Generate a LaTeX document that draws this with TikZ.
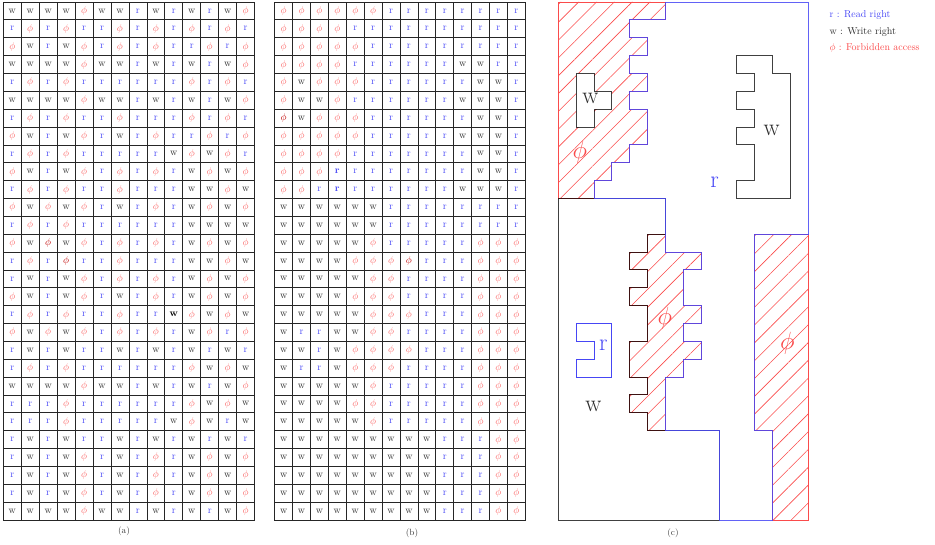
\documentclass[tikz,border=0pt]{standalone}
\usepackage{tikz}
\usetikzlibrary{patterns.meta}
\definecolor{readblue}{RGB}{70,70,245}
\definecolor{forbidred}{RGB}{250,75,75}
\definecolor{writegray}{RGB}{45,45,45}
\tikzset{cell/.style={draw=black!85, line width=0.75pt, inner sep=0pt, minimum height=17.86pt}, cellr/.style={cell, text=readblue}, cellw/.style={cell, text=writegray}, cellp/.style={cell, text=forbidred!85}, cellR/.style={cell, text=readblue, font=\bfseries}, cellW/.style={cell, text=black, font=\bfseries}, cellP/.style={cell, text=red!75!black}, caption/.style={font=\small, text=black!75}, zone/.style={line width=0.85pt}, zonephi/.style={pattern={Lines[angle=45,distance=12.6pt,line width=0.6pt]}, pattern color=forbidred}, biglabel/.style={font=\fontsize{24}{28}\selectfont}, legend/.style={anchor=west, font=\normalsize}}
\def\cellsymr{r}
\def\cellsymw{w}
\def\cellsymp{$\phi$}
\def\cellsymR{r}
\def\cellsymW{w}
\def\cellsymP{$\phi$}
\begin{document}
\begin{tikzpicture}[x=1pt, y=-1pt]
\useasboundingbox (0,0) rectangle (935,545);
\foreach \rowlist [count=\ri] in {{w,w,w,w,p,w,w,r,w,r,w,r,w,p},{r,p,r,p,r,r,p,r,p,r,p,r,p,r},{p,w,r,w,p,r,p,r,p,r,r,p,r,p},{w,w,w,w,p,w,w,r,w,r,w,r,w,p},{r,p,r,p,r,r,r,r,r,r,p,r,p,r},{w,w,w,w,p,w,w,r,w,r,w,r,w,p},{r,p,r,p,r,r,p,r,r,r,p,r,p,r},{p,w,r,w,p,r,w,r,p,r,r,p,r,p},{r,p,r,p,r,r,r,r,r,w,p,w,p,r},{p,w,r,w,p,r,p,r,p,r,w,p,w,p},{r,p,r,p,r,r,p,r,r,r,w,w,p,w},{p,w,p,w,p,r,w,r,p,r,w,p,w,p},{r,p,r,p,r,r,r,r,r,r,w,w,w,w},{p,w,P,w,p,r,p,r,p,r,w,p,w,p},{r,p,r,P,r,r,p,r,r,r,w,w,p,w},{r,w,r,w,p,r,p,r,p,r,w,p,w,p},{p,w,r,w,p,r,w,r,p,r,w,p,w,p},{r,p,r,p,r,r,p,r,r,W,p,w,p,w},{p,w,p,w,p,r,p,r,p,r,w,p,r,p},{r,w,r,w,r,r,w,r,w,r,w,r,w,r},{r,p,r,p,r,r,r,r,r,r,p,w,p,w},{w,w,w,w,p,w,w,r,w,r,w,r,w,p},{r,r,r,p,r,r,r,r,r,r,p,w,p,w},{r,r,r,p,r,r,r,r,r,w,p,w,r,w},{r,w,r,w,r,r,w,r,w,r,w,r,w,r},{r,w,r,w,p,r,w,r,p,r,w,p,w,p},{r,w,r,w,p,r,w,r,p,r,w,p,w,p},{r,w,r,w,p,r,w,r,p,r,w,p,w,p},{w,w,w,w,p,w,w,r,w,r,w,r,w,p}} {
  \foreach \sym [count=\ci] in \rowlist {
    \node[minimum width=17.95pt, cell\sym] (a-\ri-\ci) at ({3.3+(\ci-0.5)*17.95}, {2+(\ri-0.5)*17.86}) {\csname cellsym\sym\endcsname};
  }
}
\foreach \rowlist [count=\ri] in {{p,p,p,p,p,p,r,r,r,r,r,r,r,r},{p,p,p,p,r,r,r,r,r,r,r,r,r,r},{p,p,p,p,p,r,r,r,r,r,r,r,r,r},{p,p,p,p,r,r,r,r,r,r,w,w,r,r},{p,w,p,p,p,r,r,r,r,r,r,w,w,r},{p,w,w,p,r,r,r,r,r,r,w,w,w,r},{P,w,p,p,p,r,r,r,r,r,r,w,w,r},{p,p,p,p,p,r,r,r,r,r,w,w,w,r},{p,p,p,p,r,r,r,r,r,r,r,w,w,r},{p,p,p,R,r,r,r,r,r,r,r,w,w,r},{p,p,r,R,r,r,r,r,r,r,w,w,w,r},{w,w,w,w,w,w,r,r,r,r,r,r,r,r},{w,w,w,w,w,w,r,r,r,r,r,r,r,r},{w,w,w,w,w,p,r,r,r,r,r,p,p,p},{w,w,w,w,p,p,p,P,r,r,r,p,p,p},{w,w,w,w,w,p,p,r,r,r,r,p,p,p},{w,w,w,w,p,p,p,r,r,r,r,p,p,p},{w,w,w,w,w,p,p,p,r,r,r,p,p,p},{w,r,r,w,w,p,p,r,r,r,r,p,p,p},{w,w,r,w,p,p,p,p,r,r,r,p,p,p},{w,r,r,w,p,p,p,r,r,r,r,p,p,p},{w,w,w,w,w,p,r,r,r,r,r,p,p,p},{w,w,w,w,p,p,r,r,r,r,r,p,p,p},{w,w,w,w,w,p,r,r,r,r,r,p,p,p},{w,w,w,w,w,w,w,w,w,r,r,r,p,p},{w,w,w,w,w,w,w,w,w,r,r,r,p,p},{w,w,w,w,w,w,w,w,w,r,r,r,p,p},{w,w,w,w,w,w,w,w,w,r,r,r,p,p},{w,w,w,w,w,w,w,w,w,r,r,r,p,p}} {
  \foreach \sym [count=\ci] in \rowlist {
    \node[minimum width=17.9pt, cell\sym] (b-\ri-\ci) at ({274.7+(\ci-0.5)*17.9}, {2+(\ri-0.5)*17.86}) {\csname cellsym\sym\endcsname};
  }
}
\node[caption] (capa) at (124,531) {(a)};
\node[caption] (capb) at (412,533.5) {(b)};
\node[caption] (capc) at (673,533.5) {(c)};
\begin{scope}[shift={(558.3,2)}, x=17.86pt, y=-17.86pt]
\fill[zonephi, even odd rule] (0,0) -- (6,0) -- (6,1) -- (4,1) -- (4,2) -- (5,2) -- (5,3) -- (4,3) -- (4,4) -- (5,4) -- (5,5) -- (4,5) -- (4,6) -- (5,6) -- (5,8) -- (4,8) -- (4,9) -- (3,9) -- (3,10) -- (2,10) -- (2,11) -- (0,11) -- cycle (1,4) -- (2,4) -- (2,5) -- (3,5) -- (3,6) -- (2,6) -- (2,7) -- (1,7) -- cycle;
\fill[zonephi] (5,13) -- (6,13) -- (6,14) -- (8,14) -- (8,15) -- (7,15) -- (7,17) -- (8,17) -- (8,18) -- (7,18) -- (7,19) -- (8,19) -- (8,20) -- (7,20) -- (7,21) -- (6,21) -- (6,24) -- (5,24) -- (5,23) -- (4,23) -- (4,22) -- (5,22) -- (5,21) -- (4,21) -- (4,19) -- (5,19) -- (5,17) -- (4,17) -- (4,16) -- (5,16) -- (5,15) -- (4,15) -- (4,14) -- (5,14) -- cycle;
\fill[zonephi] (11,13) -- (14,13) -- (14,29) -- (12,29) -- (12,24) -- (11,24) -- cycle;
\draw[zone, forbidred] (0,0) -- (6,0) -- (6,1) -- (4,1) -- (4,2) -- (5,2) -- (5,3) -- (4,3) -- (4,4) -- (5,4) -- (5,5) -- (4,5) -- (4,6) -- (5,6) -- (5,8) -- (4,8) -- (4,9) -- (3,9) -- (3,10) -- (2,10) -- (2,11) -- (0,11) -- cycle;
\draw[zone, forbidred] (5,13) -- (6,13) -- (6,14) -- (8,14) -- (8,15) -- (7,15) -- (7,17) -- (8,17) -- (8,18) -- (7,18) -- (7,19) -- (8,19) -- (8,20) -- (7,20) -- (7,21) -- (6,21) -- (6,24) -- (5,24) -- (5,23) -- (4,23) -- (4,22) -- (5,22) -- (5,21) -- (4,21) -- (4,19) -- (5,19) -- (5,17) -- (4,17) -- (4,16) -- (5,16) -- (5,15) -- (4,15) -- (4,14) -- (5,14) -- cycle;
\draw[zone, forbidred] (11,13) -- (14,13) -- (14,29) -- (12,29) -- (12,24) -- (11,24) -- cycle;
\draw[zone, readblue] (1,18) -- (3,18) -- (3,21) -- (1,21) -- (1,20) -- (2,20) -- (2,19) -- (1,19) -- cycle;
\draw[zone, black, draw opacity=.75] (1,4) -- (2,4) -- (2,5) -- (3,5) -- (3,6) -- (2,6) -- (2,7) -- (1,7) -- cycle;
\draw[zone, black, draw opacity=.75] (10,3) -- (12,3) -- (12,4) -- (13,4) -- (13,11) -- (10,11) -- (10,10) -- (11,10) -- (11,8) -- (10,8) -- (10,7) -- (11,7) -- (11,6) -- (10,6) -- (10,5) -- (11,5) -- (11,4) -- (10,4) -- cycle;
\draw[zone, black, draw opacity=.75] (0,11) -- (6,11) -- (6,13) -- (5,13) -- (5,14) -- (4,14) -- (4,15) -- (5,15) -- (5,16) -- (4,16) -- (4,17) -- (5,17) -- (5,19) -- (4,19) -- (4,21) -- (5,21) -- (5,22) -- (4,22) -- (4,23) -- (5,23) -- (5,24) -- (9,24) -- (9,29) -- (0,29) -- cycle;
\draw[zone, readblue, draw opacity=.85] (6,0) -- (14,0) -- (14,13) -- (11,13) -- (11,24) -- (12,24) -- (12,29) -- (9,29) -- (9,24) -- (6,24) -- (6,21) -- (7,21) -- (7,20) -- (8,20) -- (8,19) -- (7,19) -- (7,18) -- (8,18) -- (8,17) -- (7,17) -- (7,15) -- (8,15) -- (8,14) -- (6,14) -- (6,11) -- (2,11) -- (2,10) -- (3,10) -- (3,9) -- (4,9) -- (4,8) -- (5,8) -- (5,6) -- (4,6) -- (4,5) -- (5,5) -- (5,4) -- (4,4) -- (4,3) -- (5,3) -- (5,2) -- (4,2) -- (4,1) -- (6,1) -- cycle;
\node[biglabel, text=writegray] (wtop) at (1.8,5.4) {w};
\node[biglabel, text=forbidred] (phitop) at (1.2,8.4) {$\phi$};
\node[biglabel, text=writegray] (wright) at (11.95,7.17) {w};
\node[biglabel, text=readblue] (rmain) at (8.75,10.1) {r};
\node[biglabel, text=forbidred] (phimid) at (5.97,17.7) {$\phi$};
\node[biglabel, text=forbidred] (phiright) at (12.82,19.1) {$\phi$};
\node[biglabel, text=readblue] (rsmall) at (2.52,19.2) {r};
\node[biglabel, text=writegray] (wlow) at (1.96,22.66) {w};
\end{scope}
\node[legend, text=readblue] (legr) at (826,15) {r : Read right};
\node[legend, text=writegray] (legw) at (826,32) {w : Write right};
\node[legend, text=forbidred] (legp) at (826,48) {$\phi$ : Forbidden access};
\end{tikzpicture}
\end{document}
